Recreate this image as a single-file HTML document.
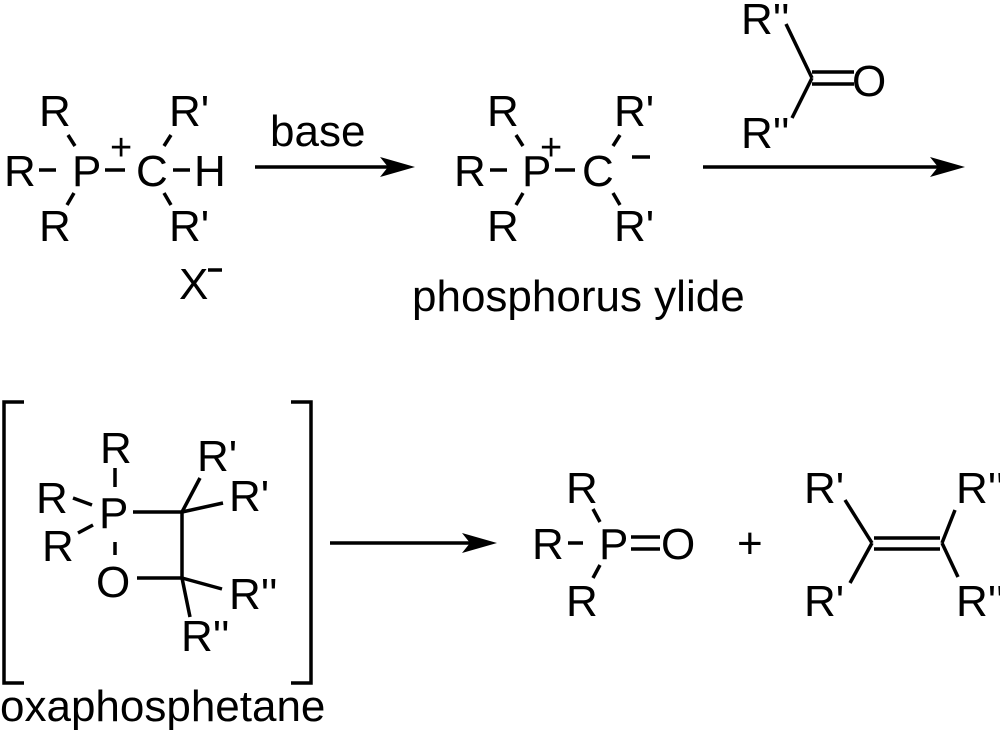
<!DOCTYPE html>
<html><head><meta charset="utf-8"><style>
html,body{margin:0;padding:0;background:#fff;}
svg{display:block;}
text{font-family:"Liberation Sans",Arial,sans-serif;font-size:44px;fill:#000;}
</style></head><body>
<svg width="1000" height="740" viewBox="0 0 1000 740" xmlns="http://www.w3.org/2000/svg">
<g stroke="#000" stroke-width="3.5" fill="none" stroke-linecap="butt">
<line x1="39" y1="170" x2="56" y2="170"/>
<line x1="105" y1="170" x2="125" y2="170"/>
<line x1="173" y1="170" x2="190" y2="170"/>
<line x1="68" y1="135" x2="75" y2="146"/>
<line x1="74" y1="193" x2="67" y2="205"/>
<line x1="171" y1="135" x2="164" y2="146"/>
<line x1="164" y1="193" x2="171" y2="205"/>
<line x1="255" y1="167" x2="390" y2="167"/>
<line x1="490" y1="170" x2="507" y2="170"/>
<line x1="555" y1="170" x2="575" y2="170"/>
<line x1="516" y1="135" x2="523" y2="146"/>
<line x1="523" y1="193" x2="516" y2="205"/>
<line x1="620" y1="135" x2="613" y2="146"/>
<line x1="613" y1="193" x2="620" y2="205"/>
<line x1="632" y1="157" x2="650" y2="157"/>
<line x1="786" y1="24" x2="812" y2="78"/>
<line x1="812" y1="78" x2="792" y2="118"/>
<line x1="812" y1="72" x2="854" y2="72"/>
<line x1="812" y1="84" x2="854" y2="84"/>
<line x1="703" y1="167" x2="940" y2="167"/>
<polyline points="24,402 4,402 4,683 24,683"/>
<polyline points="291,402 311,402 311,683 291,683"/>
<line x1="133" y1="512" x2="182" y2="512"/>
<line x1="182" y1="512" x2="182" y2="578"/>
<line x1="137" y1="578" x2="182" y2="578"/>
<line x1="115" y1="468" x2="115" y2="487"/>
<line x1="115" y1="542" x2="115" y2="555"/>
<line x1="73" y1="498" x2="92" y2="505"/>
<line x1="78" y1="533" x2="93" y2="525"/>
<line x1="182" y1="512" x2="200" y2="478"/>
<line x1="182" y1="512" x2="223" y2="503"/>
<line x1="182" y1="578" x2="222" y2="589"/>
<line x1="182" y1="578" x2="190" y2="617"/>
<line x1="330" y1="543" x2="470" y2="543"/>
<line x1="568" y1="543" x2="583" y2="543"/>
<line x1="593" y1="509" x2="600" y2="522"/>
<line x1="600" y1="565" x2="593" y2="578"/>
<line x1="631" y1="537" x2="660" y2="537"/>
<line x1="631" y1="549" x2="660" y2="549"/>
<line x1="845" y1="500" x2="872" y2="543"/>
<line x1="872" y1="543" x2="850" y2="583"/>
<line x1="955" y1="510" x2="942" y2="543"/>
<line x1="942" y1="543" x2="958" y2="577"/>
<line x1="874" y1="538" x2="940" y2="538"/>
<line x1="874" y1="549" x2="940" y2="549"/>
<line x1="208" y1="270" x2="222" y2="270"/>
</g>
<g fill="#000">
<polygon points="415,167 380,157 388,167 380,177"/>
<polygon points="965,167 930,157 938,167 930,177"/>
<polygon points="497,543 462,533 470,543 462,553"/>
</g>
<text x="4" y="186">R</text>
<text x="72" y="186">P</text>
<text x="110" y="160" style="font-size:38px">+</text>
<text x="136" y="186">C</text>
<text x="194" y="186">H</text>
<text x="39" y="126">R</text>
<text x="39" y="241">R</text>
<text x="169" y="126">R'</text>
<text x="169" y="241">R'</text>
<text x="179" y="299">X</text>
<text x="270" y="146">base</text>
<text x="454" y="186">R</text>
<text x="522" y="186">P</text>
<text x="540" y="160" style="font-size:38px">+</text>
<text x="582" y="186">C</text>
<text x="487" y="126">R</text>
<text x="487" y="241">R</text>
<text x="614" y="126">R'</text>
<text x="614" y="241">R'</text>
<text x="412" y="311">phosphorus ylide</text>
<text x="741" y="34">R''</text>
<text x="852" y="96">O</text>
<text x="741" y="148">R''</text>
<text x="100" y="463">R</text>
<text x="36" y="513">R</text>
<text x="99" y="528">P</text>
<text x="42" y="561">R</text>
<text x="96" y="597">O</text>
<text x="197" y="471">R'</text>
<text x="229" y="511">R'</text>
<text x="229" y="609">R''</text>
<text x="181" y="651">R''</text>
<text x="0" y="721">oxaphosphetane</text>
<text x="566" y="503">R</text>
<text x="532" y="559">R</text>
<text x="599" y="559">P</text>
<text x="661" y="559">O</text>
<text x="566" y="616">R</text>
<text x="737" y="558">+</text>
<text x="804" y="503">R'</text>
<text x="956" y="503">R''</text>
<text x="804" y="616">R'</text>
<text x="956" y="616">R''</text>
</svg>
</body></html>
